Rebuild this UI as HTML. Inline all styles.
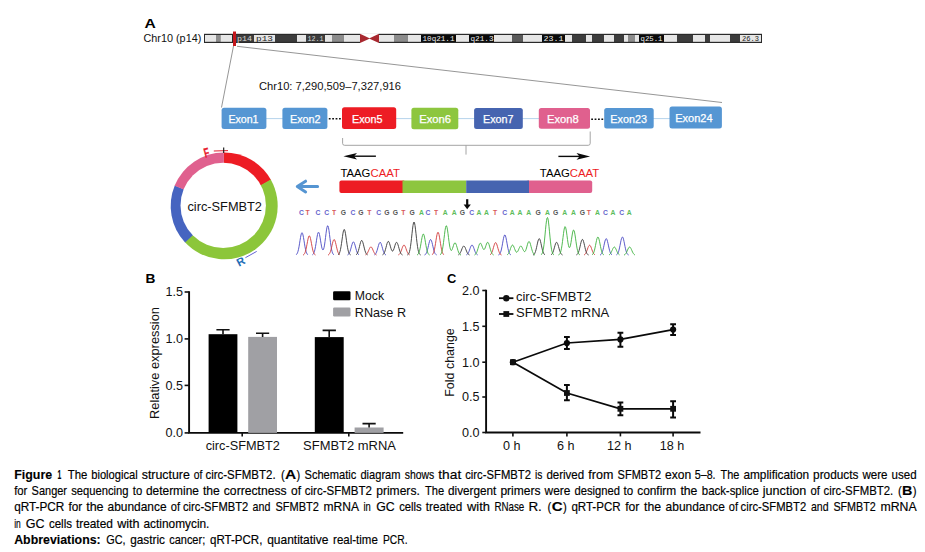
<!DOCTYPE html>
<html lang="en"><head><meta charset="utf-8"><title>Figure 1 The biological structure of circ-SFMBT2</title>
<style>html,body{margin:0;padding:0;background:#fff;}body{width:925px;height:552px;overflow:hidden;font-family:"Liberation Sans",Arial,sans-serif;}text{white-space:pre;}</style>
</head><body>
<svg width="925" height="552" viewBox="0 0 925 552" font-family="Liberation Sans, Arial, sans-serif" style="display:block">
<text x="144.6" y="27.9" font-size="13.4" fill="#000" font-weight="bold" text-anchor="start" textLength="11.3" lengthAdjust="spacingAndGlyphs" >A</text>
<text x="143.5" y="42" font-size="10.9" fill="#111" font-weight="normal" text-anchor="start" textLength="57.8" lengthAdjust="spacingAndGlyphs" >Chr10 (p14)</text>
<g id="ideogram">
<rect x="204" y="33.8" width="558" height="9.200000000000003" fill="#2a2a2a"/>
<rect x="205" y="35.0" width="11" height="6.8000000000000025" fill="#e6e6e6"/>
<rect x="216" y="35.0" width="4.5" height="6.8000000000000025" fill="#8c8c8c"/>
<rect x="220.5" y="35.0" width="11.5" height="6.8000000000000025" fill="#e6e6e6"/>
<rect x="236" y="35.0" width="18" height="6.8000000000000025" fill="#3c3c3c"/>
<rect x="254" y="35.0" width="21" height="6.8000000000000025" fill="#e6e6e6"/>
<rect x="275" y="35.0" width="22" height="6.8000000000000025" fill="#3c3c3c"/>
<rect x="297" y="35.0" width="9" height="6.8000000000000025" fill="#e6e6e6"/>
<rect x="306" y="35.0" width="19" height="6.8000000000000025" fill="#3c3c3c"/>
<rect x="325" y="35.0" width="7" height="6.8000000000000025" fill="#e6e6e6"/>
<rect x="332" y="35.0" width="12" height="6.8000000000000025" fill="#8c8c8c"/>
<rect x="344" y="35.0" width="16" height="6.8000000000000025" fill="#e6e6e6"/>
<rect x="379" y="35.0" width="15" height="6.8000000000000025" fill="#e6e6e6"/>
<rect x="394" y="35.0" width="14" height="6.8000000000000025" fill="#8c8c8c"/>
<rect x="408" y="35.0" width="13" height="6.8000000000000025" fill="#e6e6e6"/>
<rect x="421" y="35.0" width="35" height="6.8000000000000025" fill="#0a0a0a"/>
<rect x="456" y="35.0" width="13" height="6.8000000000000025" fill="#e6e6e6"/>
<rect x="469" y="35.0" width="25" height="6.8000000000000025" fill="#0a0a0a"/>
<rect x="494" y="35.0" width="18" height="6.8000000000000025" fill="#e6e6e6"/>
<rect x="512" y="35.0" width="11" height="6.8000000000000025" fill="#5a5a5a"/>
<rect x="523" y="35.0" width="19" height="6.8000000000000025" fill="#e6e6e6"/>
<rect x="542" y="35.0" width="23" height="6.8000000000000025" fill="#0a0a0a"/>
<rect x="565" y="35.0" width="7" height="6.8000000000000025" fill="#e6e6e6"/>
<rect x="572" y="35.0" width="14" height="6.8000000000000025" fill="#3c3c3c"/>
<rect x="586" y="35.0" width="6" height="6.8000000000000025" fill="#e6e6e6"/>
<rect x="592" y="35.0" width="12" height="6.8000000000000025" fill="#3c3c3c"/>
<rect x="604" y="35.0" width="10" height="6.8000000000000025" fill="#e6e6e6"/>
<rect x="614" y="35.0" width="10" height="6.8000000000000025" fill="#3c3c3c"/>
<rect x="624" y="35.0" width="4" height="6.8000000000000025" fill="#e6e6e6"/>
<rect x="628" y="35.0" width="7" height="6.8000000000000025" fill="#8c8c8c"/>
<rect x="635" y="35.0" width="4" height="6.8000000000000025" fill="#e6e6e6"/>
<rect x="639" y="35.0" width="25" height="6.8000000000000025" fill="#0a0a0a"/>
<rect x="664" y="35.0" width="13" height="6.8000000000000025" fill="#e6e6e6"/>
<rect x="677" y="35.0" width="16" height="6.8000000000000025" fill="#3c3c3c"/>
<rect x="693" y="35.0" width="12" height="6.8000000000000025" fill="#e6e6e6"/>
<rect x="705" y="35.0" width="5" height="6.8000000000000025" fill="#3c3c3c"/>
<rect x="710" y="35.0" width="20" height="6.8000000000000025" fill="#e6e6e6"/>
<rect x="730" y="35.0" width="10" height="6.8000000000000025" fill="#3c3c3c"/>
<rect x="740" y="35.0" width="21" height="6.8000000000000025" fill="#e6e6e6"/>
<rect x="360" y="33.3" width="19" height="10.200000000000003" fill="#fff"/>
<polygon points="360,33.8 370,38.4 360,43.0" fill="#a8282f"/>
<polygon points="379,33.8 369,38.4 379,43.0" fill="#a8282f"/>
<rect x="233" y="31.5" width="3" height="14.5" fill="#c4161c"/>
<text x="237" y="41" font-size="7" font-family="Liberation Mono, monospace" fill="#d8d8d8" textLength="15" lengthAdjust="spacingAndGlyphs">p14</text>
<text x="256" y="41" font-size="7" font-family="Liberation Mono, monospace" fill="#222" textLength="17" lengthAdjust="spacingAndGlyphs">p13</text>
<text x="307.5" y="41" font-size="7" font-family="Liberation Mono, monospace" fill="#d8d8d8" textLength="16" lengthAdjust="spacingAndGlyphs">12.1</text>
<text x="422.5" y="41" font-size="7" font-family="Liberation Mono, monospace" fill="#f0f0f0" textLength="32" lengthAdjust="spacingAndGlyphs">10q21.1</text>
<text x="470.5" y="41" font-size="7" font-family="Liberation Mono, monospace" fill="#f0f0f0" textLength="23" lengthAdjust="spacingAndGlyphs">q21.3</text>
<text x="543.5" y="41" font-size="7" font-family="Liberation Mono, monospace" fill="#f0f0f0" textLength="20" lengthAdjust="spacingAndGlyphs">23.1</text>
<text x="640.5" y="41" font-size="7" font-family="Liberation Mono, monospace" fill="#f0f0f0" textLength="22" lengthAdjust="spacingAndGlyphs">q25.1</text>
<text x="742" y="41" font-size="7" font-family="Liberation Mono, monospace" fill="#222" textLength="17" lengthAdjust="spacingAndGlyphs">26.3</text>
</g>
<line x1="233.5" y1="46" x2="221.5" y2="107.5" stroke="#8a8a8a" stroke-width="0.9"/>
<line x1="237" y1="46.3" x2="722" y2="102.5" stroke="#8a8a8a" stroke-width="0.9"/>
<text x="259" y="89.9" font-size="10.9" fill="#111" font-weight="normal" text-anchor="start" textLength="142" lengthAdjust="spacingAndGlyphs" >Chr10: 7,290,509–7,327,916</text>
<line x1="266" y1="118.6" x2="283" y2="118.6" stroke="#b5d3ec" stroke-width="1"/>
<line x1="396" y1="118.6" x2="539" y2="118.6" stroke="#b5d3ec" stroke-width="1"/>
<line x1="653" y1="118.6" x2="670" y2="118.6" stroke="#b5d3ec" stroke-width="1"/>
<line x1="328.8" y1="118.8" x2="341.5" y2="118.8" stroke="#111" stroke-width="1.6" stroke-dasharray="1.8,1.6"/>
<line x1="591.2" y1="119.2" x2="603.5" y2="119.2" stroke="#111" stroke-width="1.6" stroke-dasharray="1.8,1.6"/>
<rect x="221.6" y="107.7" width="44.8" height="21.2" rx="2.5" fill="#5596d3"/>
<text x="228.4" y="122.7" font-size="10.7" fill="#fff" font-weight="normal" text-anchor="start" textLength="30.1" lengthAdjust="spacingAndGlyphs" stroke="#fff" stroke-width="0.25">Exon1</text>
<rect x="282.4" y="107.7" width="45.0" height="21.2" rx="2.5" fill="#5596d3"/>
<text x="290" y="122.7" font-size="10.7" fill="#fff" font-weight="normal" text-anchor="start" textLength="30.6" lengthAdjust="spacingAndGlyphs" stroke="#fff" stroke-width="0.25">Exon2</text>
<rect x="342" y="107.3" width="54.2" height="21.6" rx="2.5" fill="#ed1c24"/>
<text x="352" y="122.7" font-size="10.7" fill="#fff" font-weight="normal" text-anchor="start" textLength="30.6" lengthAdjust="spacingAndGlyphs" stroke="#fff" stroke-width="0.25">Exon5</text>
<rect x="411.4" y="107.7" width="46.9" height="21.6" rx="2.5" fill="#8dc63f"/>
<text x="419.2" y="122.7" font-size="10.7" fill="#fff" font-weight="normal" text-anchor="start" textLength="31.7" lengthAdjust="spacingAndGlyphs" stroke="#fff" stroke-width="0.25">Exon6</text>
<rect x="474.1" y="108" width="48.7" height="21.0" rx="2.5" fill="#4664b0"/>
<text x="483" y="122.7" font-size="10.7" fill="#fff" font-weight="normal" text-anchor="start" textLength="30.6" lengthAdjust="spacingAndGlyphs" stroke="#fff" stroke-width="0.25">Exon7</text>
<rect x="538.8" y="108" width="51.2" height="20.7" rx="2.5" fill="#e0608e"/>
<text x="547" y="122.7" font-size="10.7" fill="#fff" font-weight="normal" text-anchor="start" textLength="31.7" lengthAdjust="spacingAndGlyphs" stroke="#fff" stroke-width="0.25">Exon8</text>
<rect x="604.2" y="108.1" width="49.5" height="20.5" rx="2.5" fill="#5596d3"/>
<text x="610.3" y="122.6" font-size="10.7" fill="#fff" font-weight="normal" text-anchor="start" textLength="36.6" lengthAdjust="spacingAndGlyphs" stroke="#fff" stroke-width="0.25">Exon23</text>
<rect x="669.5" y="106.4" width="52.4" height="22.2" rx="2.5" fill="#5596d3"/>
<text x="675.2" y="121.8" font-size="10.7" fill="#fff" font-weight="normal" text-anchor="start" textLength="37.4" lengthAdjust="spacingAndGlyphs" stroke="#fff" stroke-width="0.25">Exon24</text>
<path d="M342.6 138 V143.4 Q342.6 145.3 344.6 145.3 H588.2 Q590.2 145.3 590.2 143.3 V131.5" fill="none" stroke="#9a9a9a" stroke-width="0.9"/>
<line x1="466" y1="145.3" x2="466" y2="154.6" stroke="#9a9a9a" stroke-width="0.9"/>
<path d="M375.9 156.2 H349" stroke="#0a0a0a" stroke-width="1.4" fill="none"/>
<path d="M343.4 156.2 L357 152.9 L354 156.2 L357 159.5 Z" fill="#0a0a0a"/>
<path d="M558.4 156.4 H584.5" stroke="#0a0a0a" stroke-width="1.4" fill="none"/>
<path d="M590.1 156.4 L576.5 153.1 L579.5 156.4 L576.5 159.7 Z" fill="#0a0a0a"/>
<text x="340.4" y="176.8" font-size="11" textLength="59.5" lengthAdjust="spacingAndGlyphs"><tspan fill="#000">TAAG</tspan><tspan fill="#ed1c24">CAAT</tspan></text>
<text x="539.8" y="176.8" font-size="11" textLength="59.5" lengthAdjust="spacingAndGlyphs"><tspan fill="#000">TAAG</tspan><tspan fill="#ed1c24">CAAT</tspan></text>
<rect x="339.4" y="180.5" width="66" height="12.5" rx="2" fill="#ed1c24"/>
<rect x="526" y="180.5" width="66.2" height="12.5" rx="2" fill="#e0608e"/>
<rect x="402.5" y="180.5" width="63.7" height="12.5" fill="#8dc63f"/>
<rect x="466.2" y="180.5" width="62.8" height="12.5" fill="#4664b0"/>
<path d="M317.6 186.5 H299 M305.6 181.2 L297.3 186.5 L305.6 191.9" fill="none" stroke="#5595d2" stroke-width="3" stroke-linecap="round" stroke-linejoin="round"/>
<path d="M467.2 199.2 V205.5" stroke="#0a0a0a" stroke-width="2.2" fill="none"/>
<path d="M463.6 204.4 H470.8 L467.2 209.2 Z" fill="#0a0a0a"/>
<text x="301.4" y="215.2" font-size="6.8" font-weight="bold" text-anchor="middle" fill="#4a4ac4" opacity="0.85">C</text>
<text x="307.5" y="215.2" font-size="6.8" font-weight="bold" text-anchor="middle" fill="#d23c3c" opacity="0.85">T</text>
<text x="317.9" y="215.2" font-size="6.8" font-weight="bold" text-anchor="middle" fill="#4a4ac4" opacity="0.85">C</text>
<text x="326.8" y="215.2" font-size="6.8" font-weight="bold" text-anchor="middle" fill="#4a4ac4" opacity="0.85">C</text>
<text x="334.1" y="215.2" font-size="6.8" font-weight="bold" text-anchor="middle" fill="#d23c3c" opacity="0.85">T</text>
<text x="343.3" y="215.2" font-size="6.8" font-weight="bold" text-anchor="middle" fill="#383838" opacity="0.85">G</text>
<text x="353" y="215.2" font-size="6.8" font-weight="bold" text-anchor="middle" fill="#4a4ac4" opacity="0.85">C</text>
<text x="360.8" y="215.2" font-size="6.8" font-weight="bold" text-anchor="middle" fill="#383838" opacity="0.85">G</text>
<text x="369.4" y="215.2" font-size="6.8" font-weight="bold" text-anchor="middle" fill="#d23c3c" opacity="0.85">T</text>
<text x="378.6" y="215.2" font-size="6.8" font-weight="bold" text-anchor="middle" fill="#4a4ac4" opacity="0.85">C</text>
<text x="386.9" y="215.2" font-size="6.8" font-weight="bold" text-anchor="middle" fill="#383838" opacity="0.85">G</text>
<text x="395.3" y="215.2" font-size="6.8" font-weight="bold" text-anchor="middle" fill="#383838" opacity="0.85">G</text>
<text x="403.4" y="215.2" font-size="6.8" font-weight="bold" text-anchor="middle" fill="#d23c3c" opacity="0.85">T</text>
<text x="412.2" y="215.2" font-size="6.8" font-weight="bold" text-anchor="middle" fill="#383838" opacity="0.85">G</text>
<text x="421.4" y="215.2" font-size="6.8" font-weight="bold" text-anchor="middle" fill="#3fb23f" opacity="0.85">A</text>
<text x="427.9" y="215.2" font-size="6.8" font-weight="bold" text-anchor="middle" fill="#4a4ac4" opacity="0.85">C</text>
<text x="436.1" y="215.2" font-size="6.8" font-weight="bold" text-anchor="middle" fill="#d23c3c" opacity="0.85">T</text>
<text x="445.3" y="215.2" font-size="6.8" font-weight="bold" text-anchor="middle" fill="#3fb23f" opacity="0.85">A</text>
<text x="454.3" y="215.2" font-size="6.8" font-weight="bold" text-anchor="middle" fill="#3fb23f" opacity="0.85">A</text>
<text x="462.5" y="215.2" font-size="6.8" font-weight="bold" text-anchor="middle" fill="#383838" opacity="0.85">G</text>
<text x="471.7" y="215.2" font-size="6.8" font-weight="bold" text-anchor="middle" fill="#4a4ac4" opacity="0.85">C</text>
<text x="479" y="215.2" font-size="6.8" font-weight="bold" text-anchor="middle" fill="#3fb23f" opacity="0.85">A</text>
<text x="486.4" y="215.2" font-size="6.8" font-weight="bold" text-anchor="middle" fill="#3fb23f" opacity="0.85">A</text>
<text x="495" y="215.2" font-size="6.8" font-weight="bold" text-anchor="middle" fill="#d23c3c" opacity="0.85">T</text>
<text x="504.8" y="215.2" font-size="6.8" font-weight="bold" text-anchor="middle" fill="#4a4ac4" opacity="0.85">C</text>
<text x="512.1" y="215.2" font-size="6.8" font-weight="bold" text-anchor="middle" fill="#3fb23f" opacity="0.85">A</text>
<text x="519.9" y="215.2" font-size="6.8" font-weight="bold" text-anchor="middle" fill="#3fb23f" opacity="0.85">A</text>
<text x="528.7" y="215.2" font-size="6.8" font-weight="bold" text-anchor="middle" fill="#3fb23f" opacity="0.85">A</text>
<text x="538.2" y="215.2" font-size="6.8" font-weight="bold" text-anchor="middle" fill="#383838" opacity="0.85">G</text>
<text x="547.4" y="215.2" font-size="6.8" font-weight="bold" text-anchor="middle" fill="#3fb23f" opacity="0.85">A</text>
<text x="555.7" y="215.2" font-size="6.8" font-weight="bold" text-anchor="middle" fill="#383838" opacity="0.85">G</text>
<text x="564.7" y="215.2" font-size="6.8" font-weight="bold" text-anchor="middle" fill="#3fb23f" opacity="0.85">A</text>
<text x="573.4" y="215.2" font-size="6.8" font-weight="bold" text-anchor="middle" fill="#3fb23f" opacity="0.85">A</text>
<text x="582.4" y="215.2" font-size="6.8" font-weight="bold" text-anchor="middle" fill="#383838" opacity="0.85">G</text>
<text x="588.8" y="215.2" font-size="6.8" font-weight="bold" text-anchor="middle" fill="#d23c3c" opacity="0.85">T</text>
<text x="597.5" y="215.2" font-size="6.8" font-weight="bold" text-anchor="middle" fill="#3fb23f" opacity="0.85">A</text>
<text x="605.4" y="215.2" font-size="6.8" font-weight="bold" text-anchor="middle" fill="#4a4ac4" opacity="0.85">C</text>
<text x="613" y="215.2" font-size="6.8" font-weight="bold" text-anchor="middle" fill="#3fb23f" opacity="0.85">A</text>
<text x="621.8" y="215.2" font-size="6.8" font-weight="bold" text-anchor="middle" fill="#4a4ac4" opacity="0.85">C</text>
<text x="629.3" y="215.2" font-size="6.8" font-weight="bold" text-anchor="middle" fill="#3fb23f" opacity="0.85">A</text>
<path d="M296.0 254.8 L296.5 254.4 L297.0 253.8 L297.5 252.8 L298.0 251.3 L298.5 249.3 L299.0 246.8 L299.5 243.8 L300.0 240.6 L300.5 237.6 L301.0 235.0 L301.5 233.3 L302.0 232.7 L302.5 233.3 L303.0 235.0 L303.5 237.6 L304.0 240.6 L304.5 243.8 L305.0 246.8 L305.5 249.3 L306.0 251.3 L306.5 252.8 L307.0 253.8 L307.5 254.4 L308.0 254.8 M312.5 254.8 L313.0 254.4 L313.5 253.8 L314.0 252.7 L314.5 251.2 L315.0 249.2 L315.5 246.6 L316.0 243.6 L316.5 240.3 L317.0 237.2 L317.5 234.6 L318.0 232.8 L318.5 232.2 L319.0 232.8 L319.5 234.5 L320.0 237.1 L320.5 240.2 L321.0 243.3 L321.5 246.1 L322.0 248.3 L322.5 249.6 L323.0 250.0 L323.5 249.4 L324.0 247.7 L324.5 245.1 L325.0 241.6 L325.5 237.6 L326.0 233.6 L326.5 229.9 L327.0 227.2 L327.5 225.8 L328.0 226.0 L328.5 227.7 L329.0 230.6 L329.5 234.5 L330.0 238.6 L330.5 242.6 L331.0 246.2 L331.5 249.1 L332.0 251.3 L332.5 252.9 L333.0 253.9 L333.5 254.5 L334.0 254.9 M347.5 255.0 L348.0 254.7 L348.5 254.3 L349.0 253.6 L349.5 252.7 L350.0 251.5 L350.5 249.9 L351.0 248.1 L351.5 246.2 L352.0 244.5 L352.5 243.0 L353.0 242.1 L353.5 241.9 L354.0 242.4 L354.5 243.5 L355.0 245.1 L355.5 247.0 L356.0 248.9 L356.5 250.6 L357.0 252.0 L357.5 253.1 L358.0 253.9 L358.5 254.5 L359.0 254.8 M374.5 254.9 L375.0 254.5 L375.5 254.0 L376.0 253.2 L376.5 252.1 L377.0 250.7 L377.5 249.0 L378.0 247.2 L378.5 245.4 L379.0 243.9 L379.5 242.8 L380.0 242.3 L380.5 242.5 L381.0 243.4 L381.5 244.8 L382.0 246.5 L382.5 248.3 L383.0 250.1 L383.5 251.6 L384.0 252.8 L384.5 253.7 L385.0 254.3 L385.5 254.7 L386.0 255.0 M424.5 255.0 L425.0 254.8 L425.5 254.4 L426.0 253.7 L426.5 252.7 L427.0 251.4 L427.5 249.7 L428.0 247.7 L428.5 245.5 L429.0 243.3 L429.5 241.4 L430.0 240.1 L430.5 239.5 L431.0 239.8 L431.5 240.8 L432.0 242.5 L432.5 244.6 L433.0 246.8 L433.5 248.9 L434.0 250.8 L434.5 252.3 L435.0 253.4 L435.5 254.1 L436.0 254.6 L436.5 254.9 M466.5 254.9 L467.0 254.6 L467.5 254.1 L468.0 253.5 L468.5 252.6 L469.0 251.4 L469.5 250.1 L470.0 248.6 L470.5 247.2 L471.0 246.1 L471.5 245.3 L472.0 245.0 L472.5 245.3 L473.0 246.1 L473.5 247.2 L474.0 248.6 L474.5 250.1 L475.0 251.4 L475.5 252.6 L476.0 253.5 L476.5 254.1 L477.0 254.6 L477.5 254.9 M498.5 255.0 L499.0 254.8 L499.5 254.3 L500.0 253.6 L500.5 252.5 L501.0 251.0 L501.5 249.0 L502.0 246.6 L502.5 243.8 L503.0 240.9 L503.5 238.3 L504.0 236.3 L504.5 235.1 L505.0 235.0 L505.5 236.0 L506.0 237.8 L506.5 240.4 L507.0 243.2 L507.5 246.0 L508.0 248.6 L508.5 250.7 L509.0 252.3 L509.5 253.4 L510.0 254.2 L510.5 254.7 L511.0 255.0 M600.0 255.0 L600.5 254.8 L601.0 254.4 L601.5 253.8 L602.0 252.8 L602.5 251.5 L603.0 249.8 L603.5 247.7 L604.0 245.4 L604.5 243.1 L605.0 241.0 L605.5 239.5 L606.0 238.7 L606.5 238.8 L607.0 239.7 L607.5 241.4 L608.0 243.5 L608.5 245.9 L609.0 248.1 L609.5 250.2 L610.0 251.8 L610.5 253.0 L611.0 253.9 L611.5 254.5 L612.0 254.9 M616.5 254.9 L617.0 254.5 L617.5 253.9 L618.0 253.0 L618.5 251.8 L619.0 250.1 L619.5 247.9 L620.0 245.5 L620.5 242.9 L621.0 240.5 L621.5 238.5 L622.0 237.3 L622.5 237.0 L623.0 237.7 L623.5 239.2 L624.0 241.4 L624.5 243.9 L625.0 246.5 L625.5 248.8 L626.0 250.8 L626.5 252.3 L627.0 253.4 L627.5 254.2 L628.0 254.7 L628.5 255.0" fill="none" stroke="#4a4ac4" stroke-width="1.0" opacity="0.9"/>
<path d="M303.0 255.0 L303.5 254.8 L304.0 254.4 L304.5 253.7 L305.0 252.7 L305.5 251.2 L306.0 249.3 L306.5 246.9 L307.0 244.3 L307.5 241.6 L308.0 239.1 L308.5 237.1 L309.0 236.0 L309.5 235.9 L310.0 236.8 L310.5 238.6 L311.0 241.0 L311.5 243.7 L312.0 246.4 L312.5 248.9 L313.0 250.9 L313.5 252.4 L314.0 253.5 L314.5 254.3 L315.0 254.7 L315.5 255.0 M328.0 255.0 L328.5 254.8 L329.0 254.4 L329.5 253.7 L330.0 252.7 L330.5 251.4 L331.0 249.7 L331.5 247.7 L332.0 245.5 L332.5 243.3 L333.0 241.4 L333.5 240.1 L334.0 239.5 L334.5 239.8 L335.0 240.8 L335.5 242.5 L336.0 244.6 L336.5 246.8 L337.0 248.9 L337.5 250.8 L338.0 252.3 L338.5 253.4 L339.0 254.1 L339.5 254.6 L340.0 254.9 M365.5 254.9 L366.0 254.7 L366.5 254.3 L367.0 253.7 L367.5 252.9 L368.0 251.9 L368.5 250.8 L369.0 249.6 L369.5 248.5 L370.0 247.6 L370.5 247.0 L371.0 246.9 L371.5 247.2 L372.0 247.9 L372.5 248.9 L373.0 250.1 L373.5 251.3 L374.0 252.3 L374.5 253.2 L375.0 253.9 L375.5 254.4 L376.0 254.8 L376.5 255.0 M398.5 254.9 L399.0 254.6 L399.5 254.1 L400.0 253.5 L400.5 252.6 L401.0 251.4 L401.5 250.1 L402.0 248.6 L402.5 247.2 L403.0 246.1 L403.5 245.3 L404.0 245.0 L404.5 245.3 L405.0 246.1 L405.5 247.2 L406.0 248.6 L406.5 250.1 L407.0 251.4 L407.5 252.6 L408.0 253.5 L408.5 254.1 L409.0 254.6 L409.5 254.9 M432.0 254.8 L432.5 254.4 L433.0 253.8 L433.5 252.7 L434.0 251.2 L434.5 249.2 L435.0 246.6 L435.5 243.6 L436.0 240.3 L436.5 237.2 L437.0 234.6 L437.5 232.8 L438.0 232.2 L438.5 232.8 L439.0 234.6 L439.5 237.2 L440.0 240.3 L440.5 243.6 L441.0 246.6 L441.5 249.2 L442.0 251.2 L442.5 252.7 L443.0 253.8 L443.5 254.4 L444.0 254.8 M490.0 254.9 L490.5 254.5 L491.0 254.0 L491.5 253.2 L492.0 252.2 L492.5 250.8 L493.0 249.2 L493.5 247.4 L494.0 245.7 L494.5 244.2 L495.0 243.1 L495.5 242.6 L496.0 242.8 L496.5 243.7 L497.0 245.0 L497.5 246.7 L498.0 248.5 L498.5 250.2 L499.0 251.7 L499.5 252.8 L500.0 253.7 L500.5 254.4 L501.0 254.8 L501.5 255.0 M584.0 255.0 L584.5 254.7 L585.0 254.3 L585.5 253.7 L586.0 252.8 L586.5 251.7 L587.0 250.4 L587.5 249.0 L588.0 247.6 L588.5 246.4 L589.0 245.6 L589.5 245.2 L590.0 245.4 L590.5 246.0 L591.0 247.1 L591.5 248.5 L592.0 249.9 L592.5 251.2 L593.0 252.4 L593.5 253.4 L594.0 254.1 L594.5 254.5 L595.0 254.9" fill="none" stroke="#d23c3c" stroke-width="1.0" opacity="0.9"/>
<path d="M338.0 254.9 L338.5 254.5 L339.0 253.9 L339.5 252.9 L340.0 251.5 L340.5 249.4 L341.0 246.7 L341.5 243.5 L342.0 240.0 L342.5 236.4 L343.0 233.1 L343.5 230.7 L344.0 229.5 L344.5 229.7 L345.0 231.1 L345.5 233.7 L346.0 237.1 L346.5 240.7 L347.0 244.2 L347.5 247.3 L348.0 249.9 L348.5 251.8 L349.0 253.2 L349.5 254.1 L350.0 254.6 L350.5 254.9 M356.0 254.9 L356.5 254.5 L357.0 253.9 L357.5 253.1 L358.0 251.9 L358.5 250.4 L359.0 248.5 L359.5 246.5 L360.0 244.4 L360.5 242.5 L361.0 241.2 L361.5 240.5 L362.0 240.5 L362.5 241.4 L363.0 242.9 L363.5 244.8 L364.0 246.9 L364.5 248.9 L365.0 250.7 L365.5 252.2 L366.0 253.3 L366.5 254.1 L367.0 254.6 L367.5 254.9 M382.5 254.9 L383.0 254.6 L383.5 254.2 L384.0 253.4 L384.5 252.4 L385.0 251.0 L385.5 249.3 L386.0 247.5 L386.5 245.5 L387.0 243.7 L387.5 242.3 L388.0 241.5 L388.5 241.4 L389.0 242.1 L389.5 243.3 L390.0 245.0 L390.5 246.8 L391.0 248.5 L391.5 249.9 L392.0 250.8 L392.5 251.1 L393.0 250.8 L393.5 250.0 L394.0 248.6 L394.5 247.0 L395.0 245.3 L395.5 243.8 L396.0 242.8 L396.5 242.3 L397.0 242.5 L397.5 243.4 L398.0 244.8 L398.5 246.5 L399.0 248.3 L399.5 250.1 L400.0 251.6 L400.5 252.8 L401.0 253.7 L401.5 254.3 L402.0 254.7 L402.5 255.0 M407.5 255.0 L408.0 254.6 L408.5 254.0 L409.0 253.1 L409.5 251.6 L410.0 249.4 L410.5 246.4 L411.0 242.7 L411.5 238.4 L412.0 233.7 L412.5 229.2 L413.0 225.4 L413.5 222.9 L414.0 222.0 L414.5 222.9 L415.0 225.4 L415.5 229.2 L416.0 233.7 L416.5 238.4 L417.0 242.7 L417.5 246.4 L418.0 249.4 L418.5 251.6 L419.0 253.1 L419.5 254.0 L420.0 254.6 L420.5 255.0 M458.5 254.9 L459.0 254.5 L459.5 254.0 L460.0 253.3 L460.5 252.4 L461.0 251.3 L461.5 250.1 L462.0 248.7 L462.5 247.6 L463.0 246.6 L463.5 246.1 L464.0 246.0 L464.5 246.5 L465.0 247.3 L465.5 248.5 L466.0 249.8 L466.5 251.1 L467.0 252.2 L467.5 253.2 L468.0 253.9 L468.5 254.4 L469.0 254.8 L469.5 255.0 M533.0 255.0 L533.5 254.8 L534.0 254.4 L534.5 253.8 L535.0 252.8 L535.5 251.5 L536.0 249.8 L536.5 247.7 L537.0 245.4 L537.5 243.1 L538.0 241.0 L538.5 239.5 L539.0 238.7 L539.5 238.8 L540.0 239.7 L540.5 241.4 L541.0 243.5 L541.5 245.9 L542.0 248.1 L542.5 250.2 L543.0 251.8 L543.5 253.0 L544.0 253.9 L544.5 254.5 L545.0 254.9 M551.0 254.9 L551.5 254.5 L552.0 254.0 L552.5 253.2 L553.0 252.1 L553.5 250.7 L554.0 249.0 L554.5 247.2 L555.0 245.4 L555.5 243.9 L556.0 242.8 L556.5 242.3 L557.0 242.5 L557.5 243.4 L558.0 244.8 L558.5 246.5 L559.0 248.3 L559.5 250.1 L560.0 251.6 L560.5 252.8 L561.0 253.7 L561.5 254.3 L562.0 254.7 L562.5 255.0 M576.5 254.9 L577.0 254.6 L577.5 254.1 L578.0 253.3 L578.5 252.2 L579.0 250.7 L579.5 248.9 L580.0 246.8 L580.5 244.5 L581.0 242.4 L581.5 240.7 L582.0 239.7 L582.5 239.4 L583.0 240.0 L583.5 241.4 L584.0 243.2 L584.5 245.4 L585.0 247.6 L585.5 249.7 L586.0 251.4 L586.5 252.7 L587.0 253.7 L587.5 254.3 L588.0 254.8 L588.5 255.0" fill="none" stroke="#383838" stroke-width="1.0" opacity="0.9"/>
<path d="M417.0 255.0 L417.5 254.7 L418.0 254.3 L418.5 253.5 L419.0 252.4 L419.5 250.8 L420.0 248.7 L420.5 246.2 L421.0 243.3 L421.5 240.3 L422.0 237.6 L422.5 235.4 L423.0 234.2 L423.5 234.1 L424.0 235.1 L424.5 237.1 L425.0 239.7 L425.5 242.7 L426.0 245.6 L426.5 248.3 L427.0 250.5 L427.5 252.1 L428.0 253.3 L428.5 254.2 L429.0 254.7 L429.5 255.0 M440.0 254.9 L440.5 254.5 L441.0 253.9 L441.5 252.9 L442.0 251.3 L442.5 249.1 L443.0 246.2 L443.5 242.6 L444.0 238.6 L444.5 234.5 L445.0 230.6 L445.5 227.7 L446.0 226.0 L446.5 225.8 L447.0 227.2 L447.5 229.9 L448.0 233.6 L448.5 237.6 L449.0 241.6 L449.5 245.0 L450.0 247.7 L450.5 249.5 L451.0 250.4 L451.5 250.4 L452.0 249.7 L452.5 248.5 L453.0 247.0 L453.5 245.4 L454.0 244.0 L454.5 243.1 L455.0 242.8 L455.5 243.1 L456.0 244.1 L456.5 245.5 L457.0 247.2 L457.5 248.9 L458.0 250.6 L458.5 252.0 L459.0 253.1 L459.5 253.9 L460.0 254.5 L460.5 254.8 L461.0 255.0 M474.5 255.0 L475.0 254.7 L475.5 254.3 L476.0 253.7 L476.5 252.8 L477.0 251.6 L477.5 250.1 L478.0 248.5 L478.5 246.8 L479.0 245.2 L479.5 244.0 L480.0 243.3 L480.5 243.2 L481.0 243.7 L481.5 244.7 L482.0 246.1 L482.5 247.4 L483.0 248.6 L483.5 249.4 L484.0 249.6 L484.5 249.2 L485.0 248.3 L485.5 246.9 L486.0 245.4 L486.5 244.0 L487.0 242.9 L487.5 242.3 L488.0 242.4 L488.5 243.2 L489.0 244.5 L489.5 246.1 L490.0 248.0 L490.5 249.7 L491.0 251.3 L491.5 252.6 L492.0 253.5 L492.5 254.2 L493.0 254.7 L493.5 255.0 M507.0 254.9 L507.5 254.6 L508.0 254.1 L508.5 253.5 L509.0 252.6 L509.5 251.4 L510.0 250.1 L510.5 248.6 L511.0 247.2 L511.5 246.1 L512.0 245.3 L512.5 245.0 L513.0 245.3 L513.5 246.0 L514.0 247.2 L514.5 248.5 L515.0 249.8 L515.5 251.0 L516.0 251.8 L516.5 252.2 L517.0 252.2 L517.5 251.7 L518.0 250.9 L518.5 249.8 L519.0 248.6 L519.5 247.5 L520.0 246.6 L520.5 246.1 L521.0 246.0 L521.5 246.4 L522.0 247.3 L522.5 248.4 L523.0 249.5 L523.5 250.5 L524.0 251.3 L524.5 251.6 L525.0 251.5 L525.5 250.8 L526.0 249.5 L526.5 248.0 L527.0 246.1 L527.5 244.3 L528.0 242.8 L528.5 241.8 L529.0 241.4 L529.5 241.8 L530.0 242.8 L530.5 244.4 L531.0 246.3 L531.5 248.2 L532.0 250.0 L532.5 251.6 L533.0 252.8 L533.5 253.7 L534.0 254.4 L534.5 254.8 L535.0 255.0 M541.0 254.8 L541.5 254.4 L542.0 253.7 L542.5 252.5 L543.0 250.6 L543.5 248.0 L544.0 244.5 L544.5 240.1 L545.0 235.0 L545.5 229.7 L546.0 224.7 L546.5 220.7 L547.0 218.1 L547.5 217.5 L548.0 218.9 L548.5 222.1 L549.0 226.6 L549.5 231.8 L550.0 237.1 L550.5 241.9 L551.0 246.0 L551.5 249.2 L552.0 251.5 L552.5 253.0 L553.0 254.0 L553.5 254.6 L554.0 255.0 M558.5 255.0 L559.0 254.8 L559.5 254.3 L560.0 253.6 L560.5 252.4 L561.0 250.6 L561.5 248.2 L562.0 245.2 L562.5 241.5 L563.0 237.5 L563.5 233.5 L564.0 230.1 L564.5 227.7 L565.0 226.6 L565.5 227.1 L566.0 229.0 L566.5 232.0 L567.0 235.7 L567.5 239.5 L568.0 242.9 L568.5 245.6 L569.0 247.2 L569.5 247.7 L570.0 246.9 L570.5 245.1 L571.0 242.5 L571.5 239.3 L572.0 236.0 L572.5 233.0 L573.0 230.9 L573.5 230.0 L574.0 230.4 L574.5 232.1 L575.0 234.8 L575.5 238.2 L576.0 241.7 L576.5 245.1 L577.0 248.1 L577.5 250.4 L578.0 252.2 L578.5 253.4 L579.0 254.2 L579.5 254.7 L580.0 255.0 M592.0 254.9 L592.5 254.5 L593.0 253.9 L593.5 253.0 L594.0 251.8 L594.5 250.1 L595.0 247.9 L595.5 245.5 L596.0 242.9 L596.5 240.5 L597.0 238.5 L597.5 237.3 L598.0 237.0 L598.5 237.7 L599.0 239.2 L599.5 241.4 L600.0 243.9 L600.5 246.5 L601.0 248.8 L601.5 250.8 L602.0 252.3 L602.5 253.4 L603.0 254.2 L603.5 254.7 L604.0 255.0 M609.0 254.9 L609.5 254.6 L610.0 254.2 L610.5 253.6 L611.0 252.7 L611.5 251.7 L612.0 250.6 L612.5 249.5 L613.0 248.4 L613.5 247.6 L614.0 247.1 L614.5 247.0 L615.0 247.4 L615.5 248.2 L616.0 249.2 L616.5 250.4 L617.0 251.5 L617.5 252.6 L618.0 253.4 L618.5 254.1 L619.0 254.5 L619.5 254.9 M624.0 255.0 L624.5 254.8 L625.0 254.5 L625.5 254.0 L626.0 253.3 L626.5 252.4 L627.0 251.3 L627.5 250.1 L628.0 249.0 L628.5 248.0 L629.0 247.3 L629.5 247.0 L630.0 247.1 L630.5 247.7 L631.0 248.6 L631.5 249.7 L632.0 250.8 L632.5 252.0 L633.0 252.9 L633.5 253.7 L634.0 254.3 L634.5 254.7 L635.0 254.9" fill="none" stroke="#3fb23f" stroke-width="1.0" opacity="0.9"/>
<path d="M224.2 205.9 L223.73 152.40 A53.5 53.5 0 0 1 270.99 179.96 Z" fill="#ed1c24"/>
<path d="M224.2 205.9 L270.76 179.56 A53.5 53.5 0 0 1 184.76 242.04 Z" fill="#8cc63a"/>
<path d="M224.2 205.9 L185.07 242.39 A53.5 53.5 0 0 1 174.77 185.43 Z" fill="#4664c0"/>
<path d="M224.2 205.9 L174.60 185.86 A53.5 53.5 0 0 1 223.83 152.40 Z" fill="#e0608e"/>
<circle cx="223.2" cy="205.4" r="42.7" fill="#fff"/>
<text x="224.7" y="210.6" font-size="12.8" fill="#111" font-weight="normal" text-anchor="middle" textLength="74.6" lengthAdjust="spacingAndGlyphs" >circ-SFMBT2</text>
<text x="0" y="0" font-size="13.2" font-weight="bold" fill="#e8182a" stroke="#e8182a" stroke-width="0.35" transform="translate(205.2,157.8) rotate(-15)" textLength="5.2" lengthAdjust="spacingAndGlyphs">F</text>
<line x1="213.8" y1="151" x2="228" y2="150.6" stroke="#e02030" stroke-width="1"/>
<line x1="223.7" y1="147.4" x2="223.7" y2="153" stroke="#111" stroke-width="1.1"/>
<text x="0" y="0" font-size="11" font-weight="bold" fill="#1f6db6" transform="translate(239,266.8) rotate(-28)">R</text>
<line x1="245.4" y1="257.7" x2="256.7" y2="251.4" stroke="#6464d4" stroke-width="1"/>
<text x="145.5" y="282.8" font-size="12.9" fill="#000" font-weight="bold" text-anchor="start" textLength="9.9" lengthAdjust="spacingAndGlyphs" >B</text>
<path d="M189.1 291.2 V432.9 H403.2" fill="none" stroke="#0a0a0a" stroke-width="1.9"/>
<line x1="184.6" y1="292" x2="189.1" y2="292" stroke="#111" stroke-width="1.6"/>
<text x="182.9" y="296.3" font-size="12.6" fill="#111" font-weight="normal" text-anchor="end" >1.5</text>
<line x1="184.6" y1="338.9" x2="189.1" y2="338.9" stroke="#111" stroke-width="1.6"/>
<text x="182.9" y="343.2" font-size="12.6" fill="#111" font-weight="normal" text-anchor="end" >1.0</text>
<line x1="184.6" y1="385.4" x2="189.1" y2="385.4" stroke="#111" stroke-width="1.6"/>
<text x="182.9" y="389.7" font-size="12.6" fill="#111" font-weight="normal" text-anchor="end" >0.5</text>
<line x1="184.6" y1="432.9" x2="189.1" y2="432.9" stroke="#111" stroke-width="1.6"/>
<text x="182.9" y="437.2" font-size="12.6" fill="#111" font-weight="normal" text-anchor="end" >0.0</text>
<line x1="242.2" y1="432.9" x2="242.2" y2="436.6" stroke="#111" stroke-width="1.6"/>
<line x1="348.8" y1="432.9" x2="348.8" y2="436.6" stroke="#111" stroke-width="1.6"/>
<rect x="208.6" y="334.2" width="28.8" height="98.7" fill="#000"/>
<path d="M223.0 334.2 V329.7 M216.4 329.7 H229.6" fill="none" stroke="#111" stroke-width="1.6"/>
<rect x="248.2" y="336.9" width="28.8" height="96.0" fill="#a0a0a4"/>
<path d="M262.6 336.9 V333.3 M256.0 333.3 H269.2" fill="none" stroke="#111" stroke-width="1.6"/>
<rect x="314.8" y="337.1" width="28.9" height="95.8" fill="#000"/>
<path d="M329.2 337.1 V330.4 M322.6 330.4 H335.9" fill="none" stroke="#111" stroke-width="1.6"/>
<rect x="354.6" y="427.5" width="29.0" height="5.4" fill="#a0a0a4"/>
<path d="M369.1 427.5 V423.6 M362.5 423.6 H375.7" fill="none" stroke="#111" stroke-width="1.6"/>
<text x="205.7" y="450" font-size="12.6" fill="#111" font-weight="normal" text-anchor="start" textLength="74.2" lengthAdjust="spacingAndGlyphs" >circ-SFMBT2</text>
<text x="303.1" y="450" font-size="12.6" fill="#111" font-weight="normal" text-anchor="start" textLength="92.8" lengthAdjust="spacingAndGlyphs" >SFMBT2 mRNA</text>
<rect x="333.1" y="291.3" width="17.4" height="9" rx="1.2" fill="#000"/>
<rect x="333.1" y="307.6" width="17.4" height="8.8" rx="1.2" fill="#a0a0a4"/>
<text x="354.8" y="299.8" font-size="12.6" fill="#111" font-weight="normal" text-anchor="start" textLength="29.3" lengthAdjust="spacingAndGlyphs" >Mock</text>
<text x="354.8" y="316.6" font-size="12.6" fill="#111" font-weight="normal" text-anchor="start" textLength="51.2" lengthAdjust="spacingAndGlyphs" >RNase R</text>
<text font-size="12.6" fill="#111" text-anchor="middle" transform="translate(158.6,363) rotate(-90)" textLength="112" lengthAdjust="spacingAndGlyphs">Relative expression</text>
<text x="447.1" y="283" font-size="12.9" fill="#000" font-weight="bold" text-anchor="start" textLength="9.3" lengthAdjust="spacingAndGlyphs" >C</text>
<path d="M486.1 289.7 V432.5 H700.5" fill="none" stroke="#0a0a0a" stroke-width="1.9"/>
<line x1="482.3" y1="290.5" x2="486.1" y2="290.5" stroke="#111" stroke-width="1.6"/>
<text x="479.6" y="294.8" font-size="12.6" fill="#111" font-weight="normal" text-anchor="end" >2.0</text>
<line x1="482.3" y1="326.3" x2="486.1" y2="326.3" stroke="#111" stroke-width="1.6"/>
<text x="479.6" y="330.6" font-size="12.6" fill="#111" font-weight="normal" text-anchor="end" >1.5</text>
<line x1="482.3" y1="362.2" x2="486.1" y2="362.2" stroke="#111" stroke-width="1.6"/>
<text x="479.6" y="366.5" font-size="12.6" fill="#111" font-weight="normal" text-anchor="end" >1.0</text>
<line x1="482.3" y1="397" x2="486.1" y2="397" stroke="#111" stroke-width="1.6"/>
<text x="479.6" y="401.3" font-size="12.6" fill="#111" font-weight="normal" text-anchor="end" >0.5</text>
<line x1="482.3" y1="432.5" x2="486.1" y2="432.5" stroke="#111" stroke-width="1.6"/>
<text x="479.6" y="436.8" font-size="12.6" fill="#111" font-weight="normal" text-anchor="end" >0.0</text>
<line x1="512.9" y1="432.5" x2="512.9" y2="436.4" stroke="#111" stroke-width="1.6"/>
<text x="511.7" y="449.7" font-size="12.6" fill="#111" font-weight="normal" text-anchor="middle" >0 h</text>
<line x1="566.9" y1="432.5" x2="566.9" y2="436.4" stroke="#111" stroke-width="1.6"/>
<text x="565.6999999999999" y="449.7" font-size="12.6" fill="#111" font-weight="normal" text-anchor="middle" >6 h</text>
<line x1="620.4" y1="432.5" x2="620.4" y2="436.4" stroke="#111" stroke-width="1.6"/>
<text x="619.1999999999999" y="449.7" font-size="12.6" fill="#111" font-weight="normal" text-anchor="middle" >12 h</text>
<line x1="673.1" y1="432.5" x2="673.1" y2="436.4" stroke="#111" stroke-width="1.6"/>
<text x="671.9" y="449.7" font-size="12.6" fill="#111" font-weight="normal" text-anchor="middle" >18 h</text>
<polyline points="512.9,362.2 566.9,343 620.4,339.4 673.1,329.6" fill="none" stroke="#0a0a0a" stroke-width="1.75"/>
<circle cx="512.9" cy="362.2" r="3.1" fill="#0a0a0a"/>
<path d="M566.9 337 V349 M564.0 337 H569.8 M564.0 349 H569.8" fill="none" stroke="#0a0a0a" stroke-width="2"/>
<circle cx="566.9" cy="343" r="3.1" fill="#0a0a0a"/>
<path d="M620.4 332.7 V346.8 M617.5 332.7 H623.3 M617.5 346.8 H623.3" fill="none" stroke="#0a0a0a" stroke-width="2"/>
<circle cx="620.4" cy="339.4" r="3.1" fill="#0a0a0a"/>
<path d="M673.1 324.3 V334.9 M670.2 324.3 H676.0 M670.2 334.9 H676.0" fill="none" stroke="#0a0a0a" stroke-width="2"/>
<circle cx="673.1" cy="329.6" r="3.1" fill="#0a0a0a"/>
<polyline points="512.9,362.2 566.9,393 620.4,408.8 673.1,408.8" fill="none" stroke="#0a0a0a" stroke-width="1.75"/>
<rect x="510.0" y="359.3" width="5.8" height="5.8" fill="#111"/>
<path d="M566.9 384.9 V400.3 M564.0 384.9 H569.8 M564.0 400.3 H569.8" fill="none" stroke="#0a0a0a" stroke-width="2"/>
<rect x="564.0" y="390.1" width="5.8" height="5.8" fill="#111"/>
<path d="M620.4 402.5 V415.3 M617.5 402.5 H623.3 M617.5 415.3 H623.3" fill="none" stroke="#0a0a0a" stroke-width="2"/>
<rect x="617.5" y="405.90000000000003" width="5.8" height="5.8" fill="#111"/>
<path d="M673.1 401.2 V417.5 M670.2 401.2 H676.0 M670.2 417.5 H676.0" fill="none" stroke="#0a0a0a" stroke-width="2"/>
<rect x="670.2" y="405.90000000000003" width="5.8" height="5.8" fill="#111"/>
<line x1="499" y1="298.2" x2="513.4" y2="298.2" stroke="#0a0a0a" stroke-width="1.8"/><circle cx="506.3" cy="298.2" r="3.2" fill="#111"/>
<line x1="499" y1="314" x2="513.4" y2="314" stroke="#0a0a0a" stroke-width="1.8"/><rect x="503.4" y="311.1" width="5.8" height="5.8" fill="#111"/>
<text x="516" y="301.2" font-size="12.6" fill="#111" font-weight="normal" text-anchor="start" textLength="75.5" lengthAdjust="spacingAndGlyphs" >circ-SFMBT2</text>
<text x="516" y="317.4" font-size="12.6" fill="#111" font-weight="normal" text-anchor="start" textLength="93.3" lengthAdjust="spacingAndGlyphs" >SFMBT2 mRNA</text>
<text font-size="12.6" fill="#111" text-anchor="middle" transform="translate(454,362.5) rotate(-90)" textLength="68.5" lengthAdjust="spacingAndGlyphs">Fold change</text>
<text x="14.2" y="478.7" font-size="13" fill="#000" stroke="#000" stroke-width="0.12" font-weight="bold" textLength="38.0" lengthAdjust="spacingAndGlyphs">Figure</text>
<text x="57.6" y="478.7" font-size="13" fill="#000" stroke="#000" stroke-width="0.12" font-weight="bold" textLength="3.8" lengthAdjust="spacingAndGlyphs">1</text>
<text x="67.7" y="478.7" font-size="13" fill="#000" stroke="#000" stroke-width="0.18" font-weight="normal" textLength="19.6" lengthAdjust="spacingAndGlyphs">The</text>
<text x="91.2" y="478.7" font-size="13" fill="#000" stroke="#000" stroke-width="0.18" font-weight="normal" textLength="46.6" lengthAdjust="spacingAndGlyphs">biological</text>
<text x="141.7" y="478.7" font-size="13" fill="#000" stroke="#000" stroke-width="0.18" font-weight="normal" textLength="48.2" lengthAdjust="spacingAndGlyphs">structure</text>
<text x="193.8" y="478.7" font-size="13" fill="#000" stroke="#000" stroke-width="0.18" font-weight="normal" textLength="8.6" lengthAdjust="spacingAndGlyphs">of</text>
<text x="205.4" y="478.7" font-size="13" fill="#000" stroke="#000" stroke-width="0.18" font-weight="normal" textLength="70.2" lengthAdjust="spacingAndGlyphs">circ-SFMBT2.</text>
<text x="281" y="478.7" font-size="13" fill="#000" stroke="#000" stroke-width="0.18" font-weight="normal" textLength="3.8" lengthAdjust="spacingAndGlyphs">(</text>
<text x="285.1" y="478.7" font-size="13" fill="#000" stroke="#000" stroke-width="0.12" font-weight="bold" textLength="11.2" lengthAdjust="spacingAndGlyphs">A</text>
<text x="296.6" y="478.7" font-size="13" fill="#000" stroke="#000" stroke-width="0.18" font-weight="normal" textLength="3.7" lengthAdjust="spacingAndGlyphs">)</text>
<text x="304.5" y="478.7" font-size="13" fill="#000" stroke="#000" stroke-width="0.18" font-weight="normal" textLength="51.8" lengthAdjust="spacingAndGlyphs">Schematic</text>
<text x="360.4" y="478.7" font-size="13" fill="#000" stroke="#000" stroke-width="0.18" font-weight="normal" textLength="40.1" lengthAdjust="spacingAndGlyphs">diagram</text>
<text x="404.8" y="478.7" font-size="13" fill="#000" stroke="#000" stroke-width="0.18" font-weight="normal" textLength="29.5" lengthAdjust="spacingAndGlyphs">shows</text>
<text x="438.3" y="478.7" font-size="13" fill="#000" stroke="#000" stroke-width="0.18" font-weight="normal" textLength="22.9" lengthAdjust="spacingAndGlyphs">that</text>
<text x="465.2" y="478.7" font-size="13" fill="#000" stroke="#000" stroke-width="0.18" font-weight="normal" textLength="65.8" lengthAdjust="spacingAndGlyphs">circ-SFMBT2</text>
<text x="535" y="478.7" font-size="13" fill="#000" stroke="#000" stroke-width="0.18" font-weight="normal" textLength="7.4" lengthAdjust="spacingAndGlyphs">is</text>
<text x="546.4" y="478.7" font-size="13" fill="#000" stroke="#000" stroke-width="0.18" font-weight="normal" textLength="37.8" lengthAdjust="spacingAndGlyphs">derived</text>
<text x="588.3" y="478.7" font-size="13" fill="#000" stroke="#000" stroke-width="0.18" font-weight="normal" textLength="25.0" lengthAdjust="spacingAndGlyphs">from</text>
<text x="617.6" y="478.7" font-size="13" fill="#000" stroke="#000" stroke-width="0.18" font-weight="normal" textLength="43.5" lengthAdjust="spacingAndGlyphs">SFMBT2</text>
<text x="665.1" y="478.7" font-size="13" fill="#000" stroke="#000" stroke-width="0.18" font-weight="normal" textLength="26.2" lengthAdjust="spacingAndGlyphs">exon</text>
<text x="694.8" y="478.7" font-size="13" fill="#000" stroke="#000" stroke-width="0.18" font-weight="normal" textLength="20.8" lengthAdjust="spacingAndGlyphs">5–8.</text>
<text x="720.6" y="478.7" font-size="13" fill="#000" stroke="#000" stroke-width="0.18" font-weight="normal" textLength="18.8" lengthAdjust="spacingAndGlyphs">The</text>
<text x="743.4" y="478.7" font-size="13" fill="#000" stroke="#000" stroke-width="0.18" font-weight="normal" textLength="65.7" lengthAdjust="spacingAndGlyphs">amplification</text>
<text x="813.1" y="478.7" font-size="13" fill="#000" stroke="#000" stroke-width="0.18" font-weight="normal" textLength="45.4" lengthAdjust="spacingAndGlyphs">products</text>
<text x="862.4" y="478.7" font-size="13" fill="#000" stroke="#000" stroke-width="0.18" font-weight="normal" textLength="25.1" lengthAdjust="spacingAndGlyphs">were</text>
<text x="891.6" y="478.7" font-size="13" fill="#000" stroke="#000" stroke-width="0.18" font-weight="normal" textLength="25.0" lengthAdjust="spacingAndGlyphs">used</text>
<text x="14.2" y="495" font-size="13" fill="#000" stroke="#000" stroke-width="0.18" font-weight="normal" textLength="13.2" lengthAdjust="spacingAndGlyphs">for</text>
<text x="31.6" y="495" font-size="13" fill="#000" stroke="#000" stroke-width="0.18" font-weight="normal" textLength="35.4" lengthAdjust="spacingAndGlyphs">Sanger</text>
<text x="71.2" y="495" font-size="13" fill="#000" stroke="#000" stroke-width="0.18" font-weight="normal" textLength="57.3" lengthAdjust="spacingAndGlyphs">sequencing</text>
<text x="132.8" y="495" font-size="13" fill="#000" stroke="#000" stroke-width="0.18" font-weight="normal" textLength="9.4" lengthAdjust="spacingAndGlyphs">to</text>
<text x="146" y="495" font-size="13" fill="#000" stroke="#000" stroke-width="0.18" font-weight="normal" textLength="52.9" lengthAdjust="spacingAndGlyphs">determine</text>
<text x="203" y="495" font-size="13" fill="#000" stroke="#000" stroke-width="0.18" font-weight="normal" textLength="16.8" lengthAdjust="spacingAndGlyphs">the</text>
<text x="223.8" y="495" font-size="13" fill="#000" stroke="#000" stroke-width="0.18" font-weight="normal" textLength="62.8" lengthAdjust="spacingAndGlyphs">correctness</text>
<text x="291" y="495" font-size="13" fill="#000" stroke="#000" stroke-width="0.18" font-weight="normal" textLength="10.0" lengthAdjust="spacingAndGlyphs">of</text>
<text x="304.8" y="495" font-size="13" fill="#000" stroke="#000" stroke-width="0.18" font-weight="normal" textLength="67.2" lengthAdjust="spacingAndGlyphs">circ-SFMBT2</text>
<text x="376.2" y="495" font-size="13" fill="#000" stroke="#000" stroke-width="0.18" font-weight="normal" textLength="43.6" lengthAdjust="spacingAndGlyphs">primers.</text>
<text x="425" y="495" font-size="13" fill="#000" stroke="#000" stroke-width="0.18" font-weight="normal" textLength="19.2" lengthAdjust="spacingAndGlyphs">The</text>
<text x="448" y="495" font-size="13" fill="#000" stroke="#000" stroke-width="0.18" font-weight="normal" textLength="48.3" lengthAdjust="spacingAndGlyphs">divergent</text>
<text x="500.4" y="495" font-size="13" fill="#000" stroke="#000" stroke-width="0.18" font-weight="normal" textLength="40.2" lengthAdjust="spacingAndGlyphs">primers</text>
<text x="544.6" y="495" font-size="13" fill="#000" stroke="#000" stroke-width="0.18" font-weight="normal" textLength="25.8" lengthAdjust="spacingAndGlyphs">were</text>
<text x="574.5" y="495" font-size="13" fill="#000" stroke="#000" stroke-width="0.18" font-weight="normal" textLength="45.5" lengthAdjust="spacingAndGlyphs">designed</text>
<text x="623.6" y="495" font-size="13" fill="#000" stroke="#000" stroke-width="0.18" font-weight="normal" textLength="9.6" lengthAdjust="spacingAndGlyphs">to</text>
<text x="637.2" y="495" font-size="13" fill="#000" stroke="#000" stroke-width="0.18" font-weight="normal" textLength="39.0" lengthAdjust="spacingAndGlyphs">confirm</text>
<text x="680.4" y="495" font-size="13" fill="#000" stroke="#000" stroke-width="0.18" font-weight="normal" textLength="17.0" lengthAdjust="spacingAndGlyphs">the</text>
<text x="701.8" y="495" font-size="13" fill="#000" stroke="#000" stroke-width="0.18" font-weight="normal" textLength="57.0" lengthAdjust="spacingAndGlyphs">back-splice</text>
<text x="762.8" y="495" font-size="13" fill="#000" stroke="#000" stroke-width="0.18" font-weight="normal" textLength="43.4" lengthAdjust="spacingAndGlyphs">junction</text>
<text x="810.4" y="495" font-size="13" fill="#000" stroke="#000" stroke-width="0.18" font-weight="normal" textLength="9.4" lengthAdjust="spacingAndGlyphs">of</text>
<text x="823.6" y="495" font-size="13" fill="#000" stroke="#000" stroke-width="0.18" font-weight="normal" textLength="69.6" lengthAdjust="spacingAndGlyphs">circ-SFMBT2.</text>
<text x="898" y="495" font-size="13" fill="#000" stroke="#000" stroke-width="0.18" font-weight="normal" textLength="3.8" lengthAdjust="spacingAndGlyphs">(</text>
<text x="902.1" y="495" font-size="13" fill="#000" stroke="#000" stroke-width="0.12" font-weight="bold" textLength="10.4" lengthAdjust="spacingAndGlyphs">B</text>
<text x="912.8" y="495" font-size="13" fill="#000" stroke="#000" stroke-width="0.18" font-weight="normal" textLength="3.8" lengthAdjust="spacingAndGlyphs">)</text>
<text x="14.2" y="511.4" font-size="13" fill="#000" stroke="#000" stroke-width="0.18" font-weight="normal" textLength="50.2" lengthAdjust="spacingAndGlyphs">qRT-PCR</text>
<text x="68.5" y="511.4" font-size="13" fill="#000" stroke="#000" stroke-width="0.18" font-weight="normal" textLength="13.8" lengthAdjust="spacingAndGlyphs">for</text>
<text x="86.2" y="511.4" font-size="13" fill="#000" stroke="#000" stroke-width="0.18" font-weight="normal" textLength="17.4" lengthAdjust="spacingAndGlyphs">the</text>
<text x="107.6" y="511.4" font-size="13" fill="#000" stroke="#000" stroke-width="0.18" font-weight="normal" textLength="59.0" lengthAdjust="spacingAndGlyphs">abundance</text>
<text x="170.8" y="511.4" font-size="13" fill="#000" stroke="#000" stroke-width="0.18" font-weight="normal" textLength="9.2" lengthAdjust="spacingAndGlyphs">of</text>
<text x="183" y="511.4" font-size="13" fill="#000" stroke="#000" stroke-width="0.18" font-weight="normal" textLength="65.2" lengthAdjust="spacingAndGlyphs">circ-SFMBT2</text>
<text x="252.6" y="511.4" font-size="13" fill="#000" stroke="#000" stroke-width="0.18" font-weight="normal" textLength="17.8" lengthAdjust="spacingAndGlyphs">and</text>
<text x="275.4" y="511.4" font-size="13" fill="#000" stroke="#000" stroke-width="0.18" font-weight="normal" textLength="43.6" lengthAdjust="spacingAndGlyphs">SFMBT2</text>
<text x="323.5" y="511.4" font-size="13" fill="#000" stroke="#000" stroke-width="0.18" font-weight="normal" textLength="35.5" lengthAdjust="spacingAndGlyphs">mRNA</text>
<text x="363.5" y="511.4" font-size="13" fill="#000" stroke="#000" stroke-width="0.18" font-weight="normal" textLength="7.3" lengthAdjust="spacingAndGlyphs">in</text>
<text x="376.2" y="511.4" font-size="13" fill="#000" stroke="#000" stroke-width="0.18" font-weight="normal" textLength="18.5" lengthAdjust="spacingAndGlyphs">GC</text>
<text x="399.2" y="511.4" font-size="13" fill="#000" stroke="#000" stroke-width="0.18" font-weight="normal" textLength="22.5" lengthAdjust="spacingAndGlyphs">cells</text>
<text x="425.8" y="511.4" font-size="13" fill="#000" stroke="#000" stroke-width="0.18" font-weight="normal" textLength="36.4" lengthAdjust="spacingAndGlyphs">treated</text>
<text x="467" y="511.4" font-size="13" fill="#000" stroke="#000" stroke-width="0.18" font-weight="normal" textLength="23.0" lengthAdjust="spacingAndGlyphs">with</text>
<text x="494.4" y="511.4" font-size="13" fill="#000" stroke="#000" stroke-width="0.18" font-weight="normal" textLength="29.9" lengthAdjust="spacingAndGlyphs">RNase</text>
<text x="528.4" y="511.4" font-size="13" fill="#000" stroke="#000" stroke-width="0.18" font-weight="normal" textLength="13.4" lengthAdjust="spacingAndGlyphs">R.</text>
<text x="547.6" y="511.4" font-size="13" fill="#000" stroke="#000" stroke-width="0.18" font-weight="normal" textLength="3.8" lengthAdjust="spacingAndGlyphs">(</text>
<text x="551.7" y="511.4" font-size="13" fill="#000" stroke="#000" stroke-width="0.12" font-weight="bold" textLength="10.9" lengthAdjust="spacingAndGlyphs">C</text>
<text x="562.9" y="511.4" font-size="13" fill="#000" stroke="#000" stroke-width="0.18" font-weight="normal" textLength="3.8" lengthAdjust="spacingAndGlyphs">)</text>
<text x="571.4" y="511.4" font-size="13" fill="#000" stroke="#000" stroke-width="0.18" font-weight="normal" textLength="49.2" lengthAdjust="spacingAndGlyphs">qRT-PCR</text>
<text x="625.2" y="511.4" font-size="13" fill="#000" stroke="#000" stroke-width="0.18" font-weight="normal" textLength="14.2" lengthAdjust="spacingAndGlyphs">for</text>
<text x="644" y="511.4" font-size="13" fill="#000" stroke="#000" stroke-width="0.18" font-weight="normal" textLength="17.0" lengthAdjust="spacingAndGlyphs">the</text>
<text x="665.6" y="511.4" font-size="13" fill="#000" stroke="#000" stroke-width="0.18" font-weight="normal" textLength="59.2" lengthAdjust="spacingAndGlyphs">abundance</text>
<text x="728.8" y="511.4" font-size="13" fill="#000" stroke="#000" stroke-width="0.18" font-weight="normal" textLength="9.2" lengthAdjust="spacingAndGlyphs">of</text>
<text x="740.6" y="511.4" font-size="13" fill="#000" stroke="#000" stroke-width="0.18" font-weight="normal" textLength="65.6" lengthAdjust="spacingAndGlyphs">circ-SFMBT2</text>
<text x="811" y="511.4" font-size="13" fill="#000" stroke="#000" stroke-width="0.18" font-weight="normal" textLength="17.6" lengthAdjust="spacingAndGlyphs">and</text>
<text x="833.4" y="511.4" font-size="13" fill="#000" stroke="#000" stroke-width="0.18" font-weight="normal" textLength="42.4" lengthAdjust="spacingAndGlyphs">SFMBT2</text>
<text x="880.4" y="511.4" font-size="13" fill="#000" stroke="#000" stroke-width="0.18" font-weight="normal" textLength="36.2" lengthAdjust="spacingAndGlyphs">mRNA</text>
<text x="14.2" y="528" font-size="13" fill="#000" stroke="#000" stroke-width="0.18" font-weight="normal" textLength="6.6" lengthAdjust="spacingAndGlyphs">in</text>
<text x="25.8" y="528" font-size="13" fill="#000" stroke="#000" stroke-width="0.18" font-weight="normal" textLength="18.8" lengthAdjust="spacingAndGlyphs">GC</text>
<text x="48.9" y="528" font-size="13" fill="#000" stroke="#000" stroke-width="0.18" font-weight="normal" textLength="23.1" lengthAdjust="spacingAndGlyphs">cells</text>
<text x="75.9" y="528" font-size="13" fill="#000" stroke="#000" stroke-width="0.18" font-weight="normal" textLength="37.0" lengthAdjust="spacingAndGlyphs">treated</text>
<text x="117.2" y="528" font-size="13" fill="#000" stroke="#000" stroke-width="0.18" font-weight="normal" textLength="22.4" lengthAdjust="spacingAndGlyphs">with</text>
<text x="143.5" y="528" font-size="13" fill="#000" stroke="#000" stroke-width="0.18" font-weight="normal" textLength="65.9" lengthAdjust="spacingAndGlyphs">actinomycin.</text>
<text x="14.2" y="544.3" font-size="13" fill="#000" stroke="#000" stroke-width="0.12" font-weight="bold" textLength="86.5" lengthAdjust="spacingAndGlyphs">Abbreviations:</text>
<text x="106.3" y="544.3" font-size="13" fill="#000" stroke="#000" stroke-width="0.18" font-weight="normal" textLength="19.3" lengthAdjust="spacingAndGlyphs">GC,</text>
<text x="130.2" y="544.3" font-size="13" fill="#000" stroke="#000" stroke-width="0.18" font-weight="normal" textLength="34.8" lengthAdjust="spacingAndGlyphs">gastric</text>
<text x="169.2" y="544.3" font-size="13" fill="#000" stroke="#000" stroke-width="0.18" font-weight="normal" textLength="36.0" lengthAdjust="spacingAndGlyphs">cancer;</text>
<text x="210.1" y="544.3" font-size="13" fill="#000" stroke="#000" stroke-width="0.18" font-weight="normal" textLength="52.3" lengthAdjust="spacingAndGlyphs">qRT-PCR,</text>
<text x="267.2" y="544.3" font-size="13" fill="#000" stroke="#000" stroke-width="0.18" font-weight="normal" textLength="61.2" lengthAdjust="spacingAndGlyphs">quantitative</text>
<text x="333.1" y="544.3" font-size="13" fill="#000" stroke="#000" stroke-width="0.18" font-weight="normal" textLength="44.7" lengthAdjust="spacingAndGlyphs">real-time</text>
<text x="382.9" y="544.3" font-size="13" fill="#000" stroke="#000" stroke-width="0.18" font-weight="normal" textLength="24.6" lengthAdjust="spacingAndGlyphs">PCR.</text>
</svg>
</body></html>
